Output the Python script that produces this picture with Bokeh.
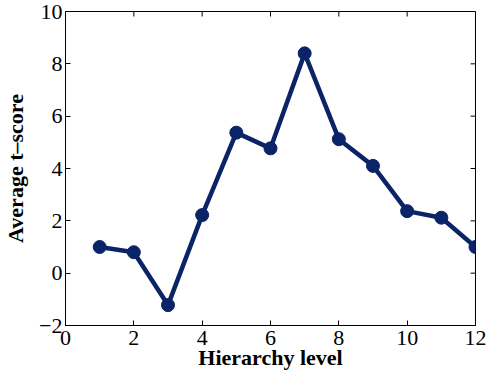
from bokeh.plotting import figure
from bokeh.models import FixedTicker, Range1d
from bokeh.embed import file_html
from bokeh.resources import INLINE

levels = [1, 2, 3, 4, 5, 6, 7, 8, 9, 10, 11, 12]
scores = [1.0, 0.8, -1.22, 2.22, 5.37, 4.77, 8.4, 5.12, 4.1, 2.37, 2.12, 1.0]
x_ticks = [0, 2, 4, 6, 8, 10, 12]
y_ticks = [-2, 0, 2, 4, 6, 8, 10]

color = "#0b2467"
font = "Liberation Serif"
X0, X1, Y0, Y1 = 0, 12, -2, 10

W, H = 487, 373
BL, BR, BT, BB = 58, 12, 11, 48

p = figure(width=W, height=H, output_backend="svg", toolbar_location=None,
           x_range=Range1d(X0, X1), y_range=Range1d(Y0, Y1),
           min_border_left=BL, min_border_right=BR, min_border_top=BT, min_border_bottom=BB)
p.grid.visible = False
p.outline_line_color = "black"
p.outline_line_width = 1
p.background_fill_color = "white"
p.border_fill_color = "white"

for ax in (p.xaxis[0], p.yaxis[0]):
    ax.major_tick_in = 5
    ax.major_tick_out = 0
    ax.minor_tick_in = 0
    ax.minor_tick_out = 0
    ax.axis_line_color = "black"
    ax.major_label_text_font = font
    ax.major_label_text_font_size = "22px"
    ax.major_label_text_color = "black"
    ax.axis_label_text_font = font
    ax.axis_label_text_font_size = "22px"
    ax.axis_label_text_font_style = "bold"
    ax.axis_label_text_color = "black"

p.xaxis.ticker = FixedTicker(ticks=x_ticks)
p.yaxis.ticker = FixedTicker(ticks=y_ticks)
p.xaxis.axis_label = "Hierarchy level"
p.yaxis.axis_label = "Average t\u2013score"
p.xaxis.major_label_standoff = 5
p.yaxis.major_label_standoff = 3
p.xaxis.axis_label_standoff = -3
p.yaxis.axis_label_standoff = 8
p.yaxis.major_label_overrides = {-2: "\u22122"}

# inward ticks on the top and right edges (MATLAB box style), ~5 px long
fw = W - BL - BR
fh = H - BT - BB
tx = 5 * (X1 - X0) / fw
ty = 5 * (Y1 - Y0) / fh
p.segment(x0=x_ticks, y0=[Y1] * len(x_ticks), x1=x_ticks, y1=[Y1 - ty] * len(x_ticks),
          line_color="black", line_width=1)
p.segment(x0=[X1] * len(y_ticks), y0=y_ticks, x1=[X1 - tx] * len(y_ticks), y1=y_ticks,
          line_color="black", line_width=1)

p.line(levels, scores, line_color=color, line_width=4.5)
p.scatter(levels, scores, size=13, fill_color=color, line_color=color)

open("out.html", "w").write(file_html(p, INLINE))
